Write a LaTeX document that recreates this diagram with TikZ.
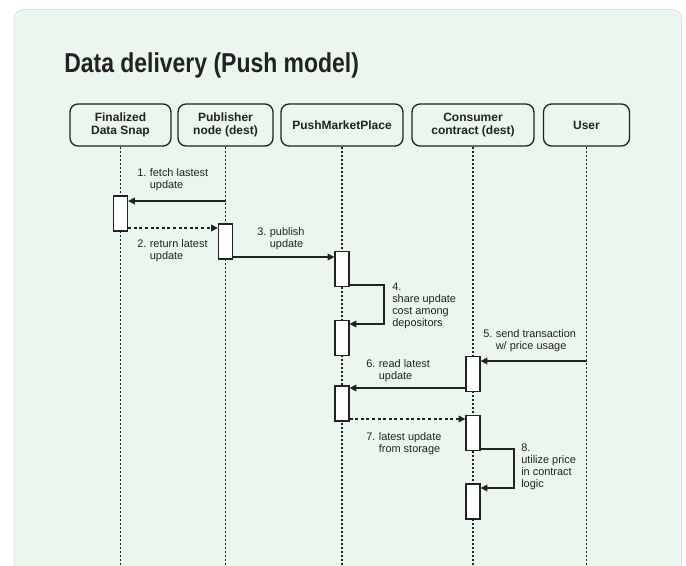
\documentclass[tikz,border=0pt]{standalone}
\usepackage{fontspec}
\setmainfont{Liberation Sans}
\usepackage{graphicx}
\usetikzlibrary{arrows.meta}
\definecolor{cardbg}{HTML}{EAF6EE}
\definecolor{cardedge}{HTML}{D9E2DC}
\definecolor{ink}{HTML}{222222}
\begin{document}
\begin{tikzpicture}[x=0.75pt,y=-0.75pt,
  head/.style={draw=ink, line width=1pt, rounded corners=6pt, minimum height=31.5pt, inner sep=0pt, align=center, text=ink, font=\fontsize{9}{10.2}\selectfont\bfseries},
  act/.style={draw=ink, fill=white, line width=1pt, minimum width=10.5pt, minimum height=26.25pt, inner sep=0pt},
  life/.style={draw=ink, line width=1.3pt, dash pattern=on 1.5pt off 1.5pt},
  msg/.style={draw=ink, line width=1pt, -{Triangle[length=5pt,width=5pt]}},
  ret/.style={msg, dash pattern=on 2.2pt off 2pt},
  lbl/.style={font=\fontsize{8.2}{9}\selectfont, text=ink, inner sep=0pt, anchor=north west}
]
\useasboundingbox (0,0) rectangle (686,565);
\fill[white] (0,0) rectangle (686,565);
\begin{scope}
\clip (0,0) rectangle (686,565);
\draw[draw=cardedge, fill=cardbg, line width=0.6pt, rounded corners=7pt] (14,9.5) rectangle (681.5,600);
\end{scope}

% title
\node[anchor=base west, inner sep=0pt, text=ink, font=\fontsize{20.5}{24}\selectfont\bfseries] (title) at (64,72) {\scalebox{0.84}[1]{Data delivery (Push model)}};

% headers
\node[head, minimum width=75.75pt] (h1) at (120.5,125) {Finalized\\Data Snap};
\node[head, minimum width=71.25pt] (h2) at (225.5,125) {Publisher\\node (dest)};
\node[head, minimum width=91.5pt] (h3) at (342,125) {PushMarketPlace};
\node[head, minimum width=91.5pt] (h4) at (473,125) {Consumer\\contract (dest)};
\node[head, minimum width=64.5pt] (h5) at (586.5,125) {User};

% lifelines
\coordinate (bot) at (0,567);
\foreach \h in {h1,h2,h3,h4,h5} {
  \draw[life] (\h.south) -- (\h.south |- bot);
}

% activation boxes
\node[act] (a1) at (120.5,213.5) {};
\node[act] (a2) at (225.5,241.5) {};
\node[act] (a3) at (342,269) {};
\node[act] (a4) at (342,338) {};
\node[act] (a5) at (473,374) {};
\node[act] (a6) at (342,403.5) {};
\node[act] (a7) at (473,433) {};
\node[act] (a8) at (473,501.5) {};

% messages
\coordinate (m1) at (225.5,201);
\draw[msg] (m1) -- (a1.east |- m1);
\coordinate (m2) at (0,228);
\draw[ret] (a1.east |- m2) -- (a2.west |- m2);
\coordinate (m3) at (0,257);
\draw[msg] (a2.east |- m3) -- (a3.west |- m3);
\coordinate (m4a) at (384,285);
\coordinate (m4b) at (384,324);
\draw[msg] (a3.east |- m4a) -- (m4a) -- (m4b) -- (a4.east |- m4b);
\coordinate (m5) at (586.5,361);
\draw[msg] (m5) -- (a5.east |- m5);
\coordinate (m6) at (0,388);
\draw[msg] (a5.west |- m6) -- (a6.east |- m6);
\coordinate (m7) at (0,419);
\draw[ret] (a6.east |- m7) -- (a7.west |- m7);
\coordinate (m8a) at (514,449);
\coordinate (m8b) at (514,488);
\draw[msg] (a7.east |- m8a) -- (m8a) -- (m8b) -- (a8.east |- m8b);

% labels
\node[lbl] (l1) at (137,167.5) {\begin{tabular}{@{}l@{\hspace{2.6pt}}l@{}}1.&fetch lastest\\&update\end{tabular}};
\node[lbl] (l2) at (137,238.5) {\begin{tabular}{@{}l@{\hspace{2.6pt}}l@{}}2.&return latest\\&update\end{tabular}};
\node[lbl] (l3) at (257,226.5) {\begin{tabular}{@{}l@{\hspace{2.6pt}}l@{}}3.&publish\\&update\end{tabular}};
\node[lbl] (l4) at (392,281.5) {\begin{tabular}{@{}l@{}}4.\\share update\\cost among\\depositors\end{tabular}};
\node[lbl] (l5) at (483,328.5) {\begin{tabular}{@{}l@{\hspace{2.6pt}}l@{}}5.&send transaction\\&w/ price usage\end{tabular}};
\node[lbl] (l6) at (366,358.5) {\begin{tabular}{@{}l@{\hspace{2.6pt}}l@{}}6.&read latest\\&update\end{tabular}};
\node[lbl] (l7) at (366,431.5) {\begin{tabular}{@{}l@{\hspace{2.6pt}}l@{}}7.&latest update\\&from storage\end{tabular}};
\node[lbl] (l8) at (521,442.5) {\begin{tabular}{@{}l@{}}8.\\utilize price\\in contract\\logic\end{tabular}};
\end{tikzpicture}
\end{document}
